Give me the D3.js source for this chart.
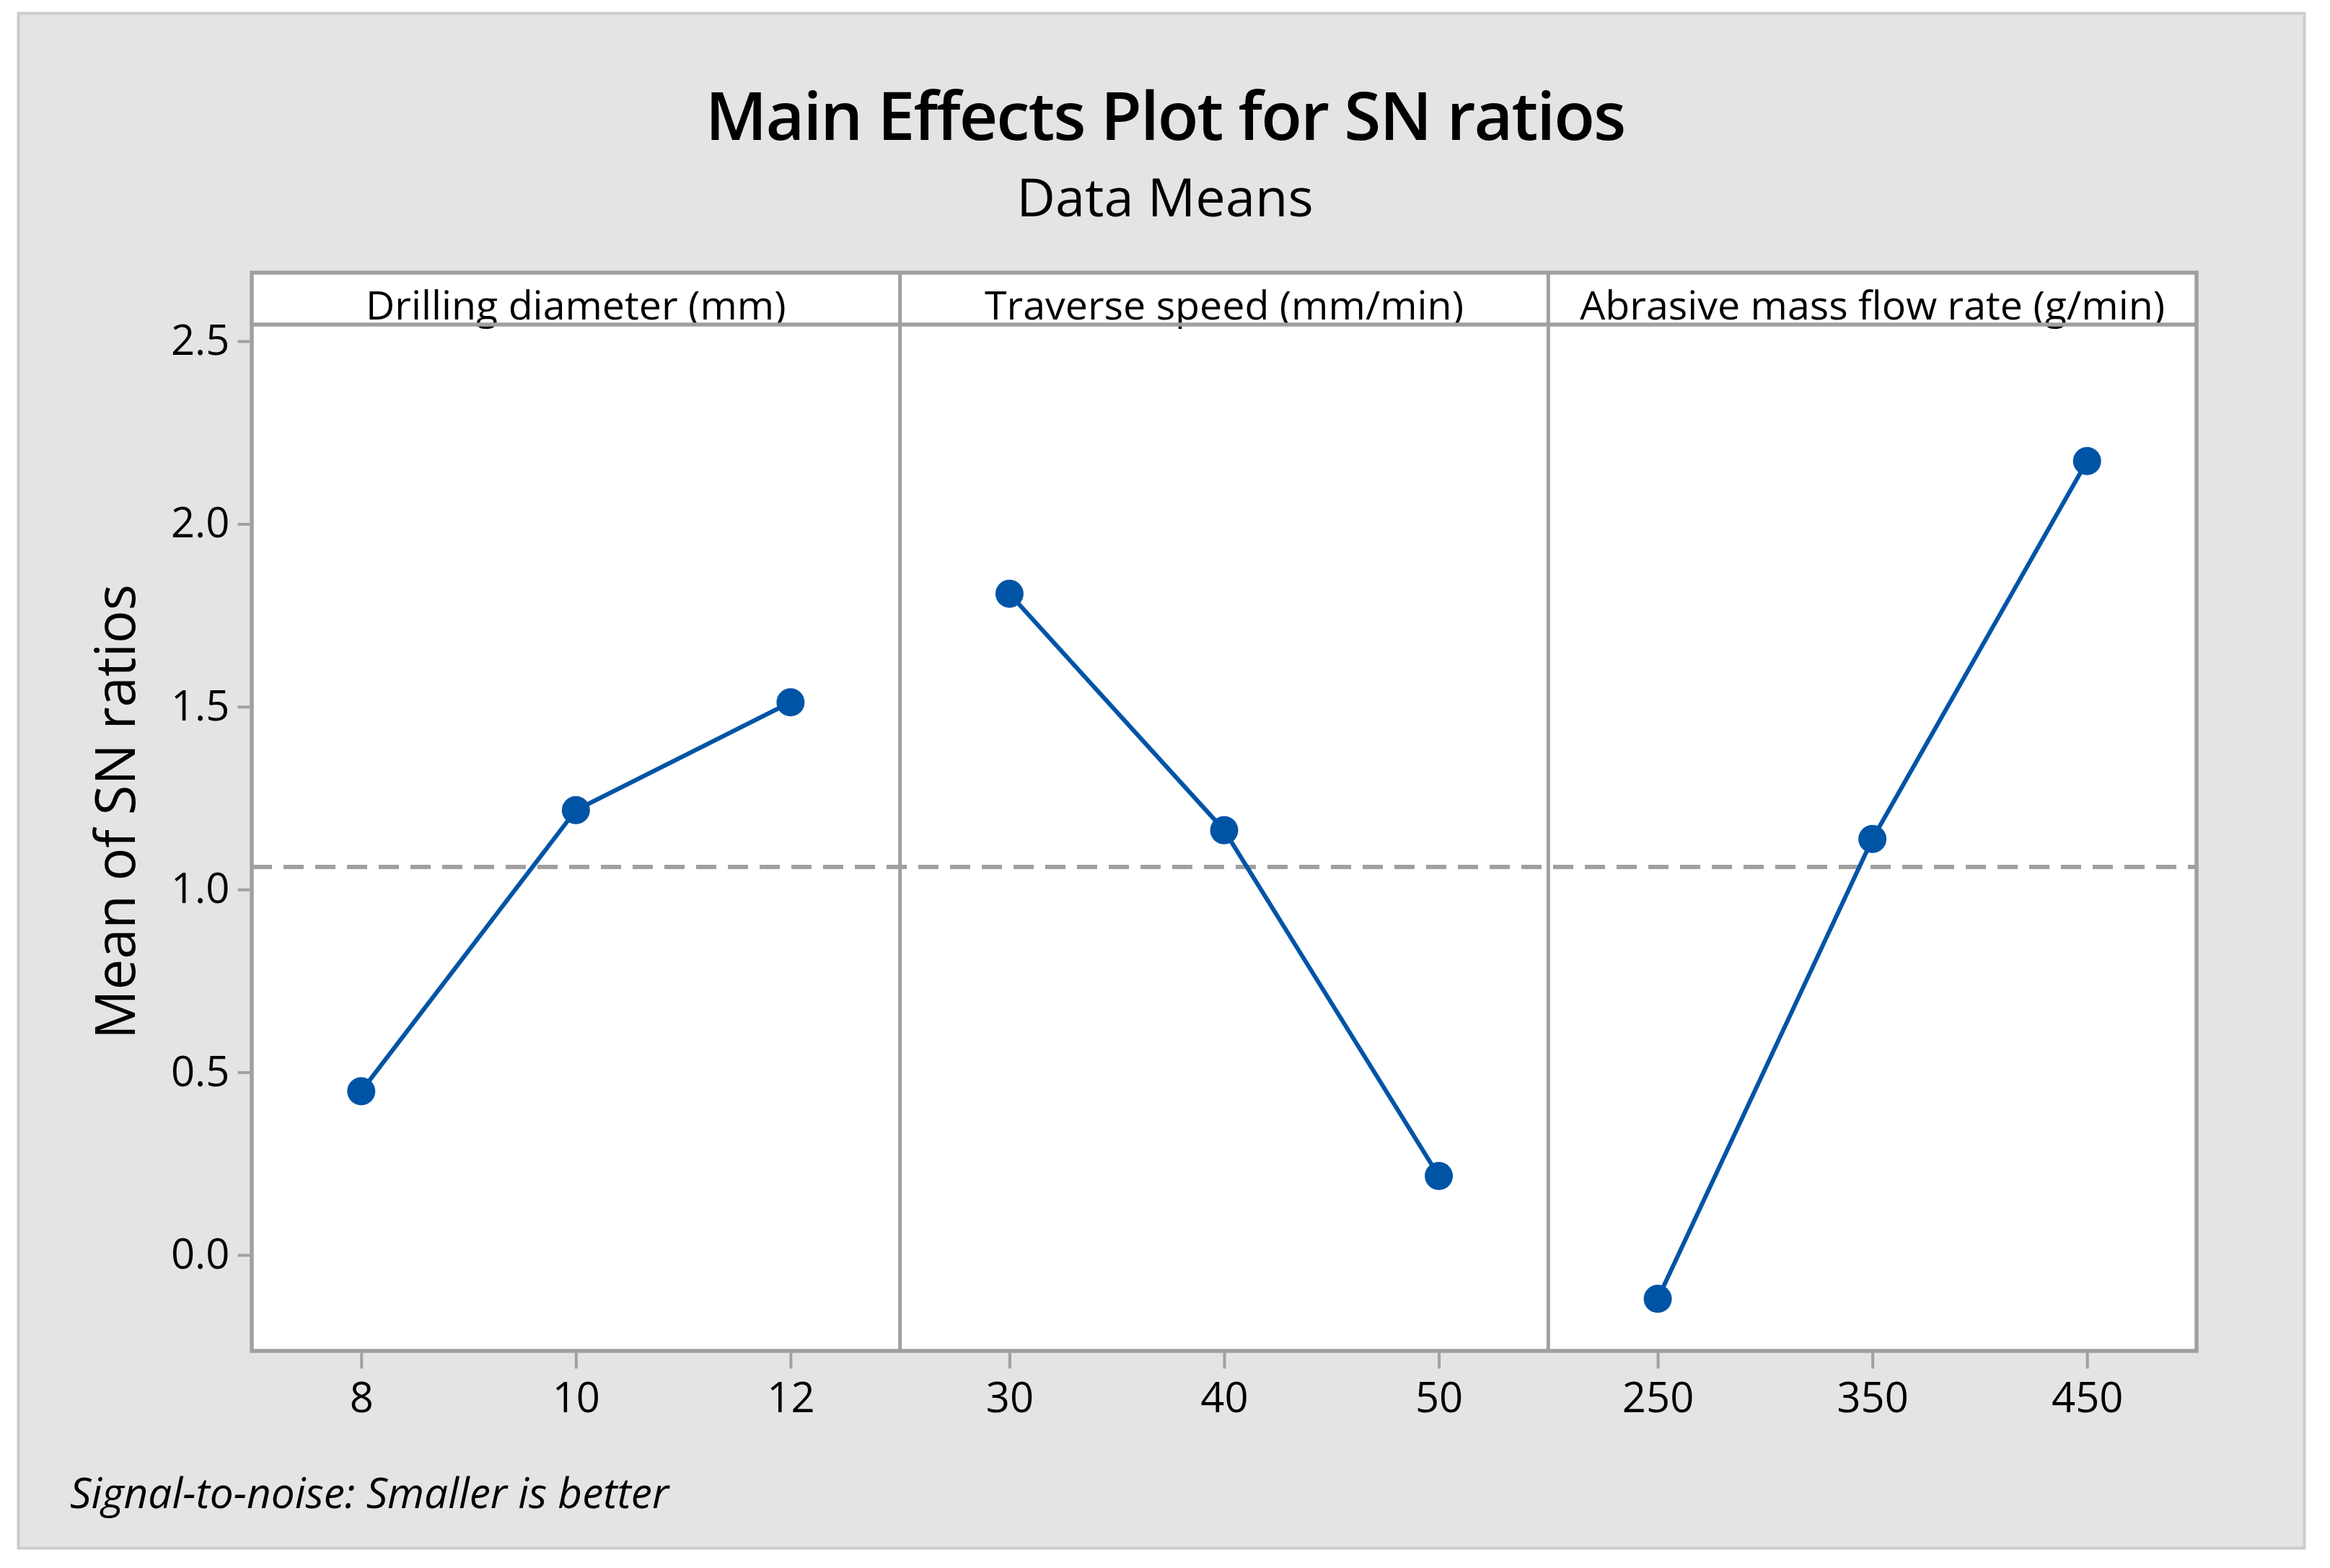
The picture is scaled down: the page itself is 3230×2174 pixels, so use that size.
<!DOCTYPE html>
<html>
<head>
<meta charset="utf-8">
<script src="https://cdn.jsdelivr.net/npm/d3@7/dist/d3.min.js"></script>
<style>
  html, body { margin: 0; padding: 0; background: #ffffff; }
  svg { display: block; }
  text { font-family: "Open Sans", "Noto Sans", sans-serif; fill: #000; }
</style>
</head>
<body>
<svg id="chart" width="3230" height="2174"></svg>
<script>
// ---------- data ----------
const panelNames = ["Drilling diameter (mm)", "Traverse speed (mm/min)", "Abrasive mass flow rate (g/min)"];
const drillingLevels = ["8", "10", "12"];
const drillingSN = [0.448, 1.217, 1.512];
const speedLevels = ["30", "40", "50"];
const speedSN = [1.809, 1.162, 0.216];
const flowLevels = ["250", "350", "450"];
const flowSN = [-0.120, 1.138, 2.172];
const yTickValues = [0.0, 0.5, 1.0, 1.5, 2.0, 2.5];
const titleText = "Main Effects Plot for SN ratios";
const subtitleText = "Data Means";
const yTitleText = "Mean of SN ratios";
const footText = "Signal-to-noise: Smaller is better";

const panels = [
  { name: panelNames[0], levels: drillingLevels, values: drillingSN },
  { name: panelNames[1], levels: speedLevels, values: speedSN },
  { name: panelNames[2], levels: flowLevels, values: flowSN }
];

// ---------- layout ----------
const W = 3230, H = 2174;
const frame = { left: 349, right: 3045, top: 378, strip: 450, bottom: 1873 };
const gray = "#a0a0a0";
const blue = "#0054a6";

const svg = d3.select("#chart");

// outer background
svg.append("rect").attr("x", 25.5).attr("y", 18.5).attr("width", 3169).attr("height", 2128)
  .attr("fill", "#e4e4e4").attr("stroke", "#cccccc").attr("stroke-width", 4);

// title & subtitle
svg.append("text").attr("x", W / 2).attr("y", 194).attr("text-anchor", "middle")
  .attr("font-size", 93).attr("font-weight", 600).attr("letter-spacing", -2).text(titleText);
svg.append("text").attr("x", W / 2).attr("y", 300).attr("text-anchor", "middle")
  .attr("font-size", 74).attr("font-weight", 500).text(subtitleText);

// scales
const panelScale = d3.scaleBand().domain(panelNames).range([frame.left, frame.right]).paddingInner(0).paddingOuter(0);
const y = d3.scaleLinear().domain([-0.2624, 2.5454]).range([frame.bottom, frame.strip]);

// plot frame (white)
svg.append("rect").attr("x", frame.left).attr("y", frame.top)
  .attr("width", frame.right - frame.left).attr("height", frame.bottom - frame.top)
  .attr("fill", "#ffffff");

// mean reference line
const allValues = panels.flatMap(p => p.values);
const grandMean = d3.mean(allValues);
svg.append("line")
  .attr("x1", frame.left).attr("x2", frame.right)
  .attr("y1", y(grandMean)).attr("y2", y(grandMean))
  .attr("stroke", gray).attr("stroke-width", 6).attr("stroke-dasharray", "28,16");

// panels
panels.forEach((p, i) => {
  const x0 = panelScale(p.name);
  const x1 = x0 + panelScale.bandwidth();
  const x = d3.scalePoint().domain(p.levels).range([x0, x1]).padding(0.51);

  // strip label
  svg.append("text").attr("x", (x0 + x1) / 2).attr("y", 443).attr("text-anchor", "middle")
    .attr("font-size", 55.5).text(p.name);

  // x axis
  const gx = svg.append("g").attr("transform", `translate(0,${frame.bottom + 2.5})`)
    .call(d3.axisBottom(x).tickSize(22).tickSizeOuter(0).tickPadding(19));
  gx.select(".domain").remove();
  gx.selectAll(".tick line").attr("stroke", gray).attr("stroke-width", 4);
  gx.selectAll(".tick text").attr("font-size", 58).attr("font-family", "Open Sans").attr("fill", "#000");

  // series line
  const pts = p.levels.map((l, k) => [x(l), y(p.values[k])]);
  svg.append("path").attr("d", d3.line()(pts)).attr("fill", "none")
    .attr("stroke", blue).attr("stroke-width", 6).attr("stroke-linejoin", "round");
  svg.selectAll(null).data(pts).enter().append("circle")
    .attr("cx", d => d[0]).attr("cy", d => d[1]).attr("r", 19.5).attr("fill", blue);
});

// frame borders and dividers
const borderG = svg.append("g").attr("stroke", gray).attr("fill", "none");
borderG.append("rect").attr("x", frame.left).attr("y", frame.top)
  .attr("width", frame.right - frame.left).attr("height", frame.bottom - frame.top)
  .attr("stroke-width", 5.5);
borderG.append("line").attr("x1", frame.left).attr("x2", frame.right)
  .attr("y1", frame.strip).attr("y2", frame.strip).attr("stroke-width", 5.5);
panelNames.slice(1).forEach(n => {
  borderG.append("line").attr("x1", panelScale(n)).attr("x2", panelScale(n))
    .attr("y1", frame.top).attr("y2", frame.bottom).attr("stroke-width", 5);
});

// y axis
const gy = svg.append("g").attr("transform", `translate(${frame.left - 2.5},0)`)
  .call(d3.axisLeft(y).tickValues(yTickValues).tickFormat(d3.format(".1f")).tickSize(17).tickSizeOuter(0).tickPadding(11));
gy.select(".domain").remove();
gy.selectAll(".tick line").attr("stroke", gray).attr("stroke-width", 4);
gy.selectAll(".tick text").attr("font-size", 58).attr("font-family", "Open Sans").attr("fill", "#000");

// y title
svg.append("text").attr("transform", `translate(187,${(frame.top + frame.bottom) / 2}) rotate(-90)`)
  .attr("text-anchor", "middle").attr("font-size", 76).attr("font-weight", 500).text(yTitleText);

// footnote
svg.append("text").attr("x", 97).attr("y", 2091).attr("font-size", 58.5).attr("font-style", "italic")
  .text(footText);
</script>
</body>
</html>
